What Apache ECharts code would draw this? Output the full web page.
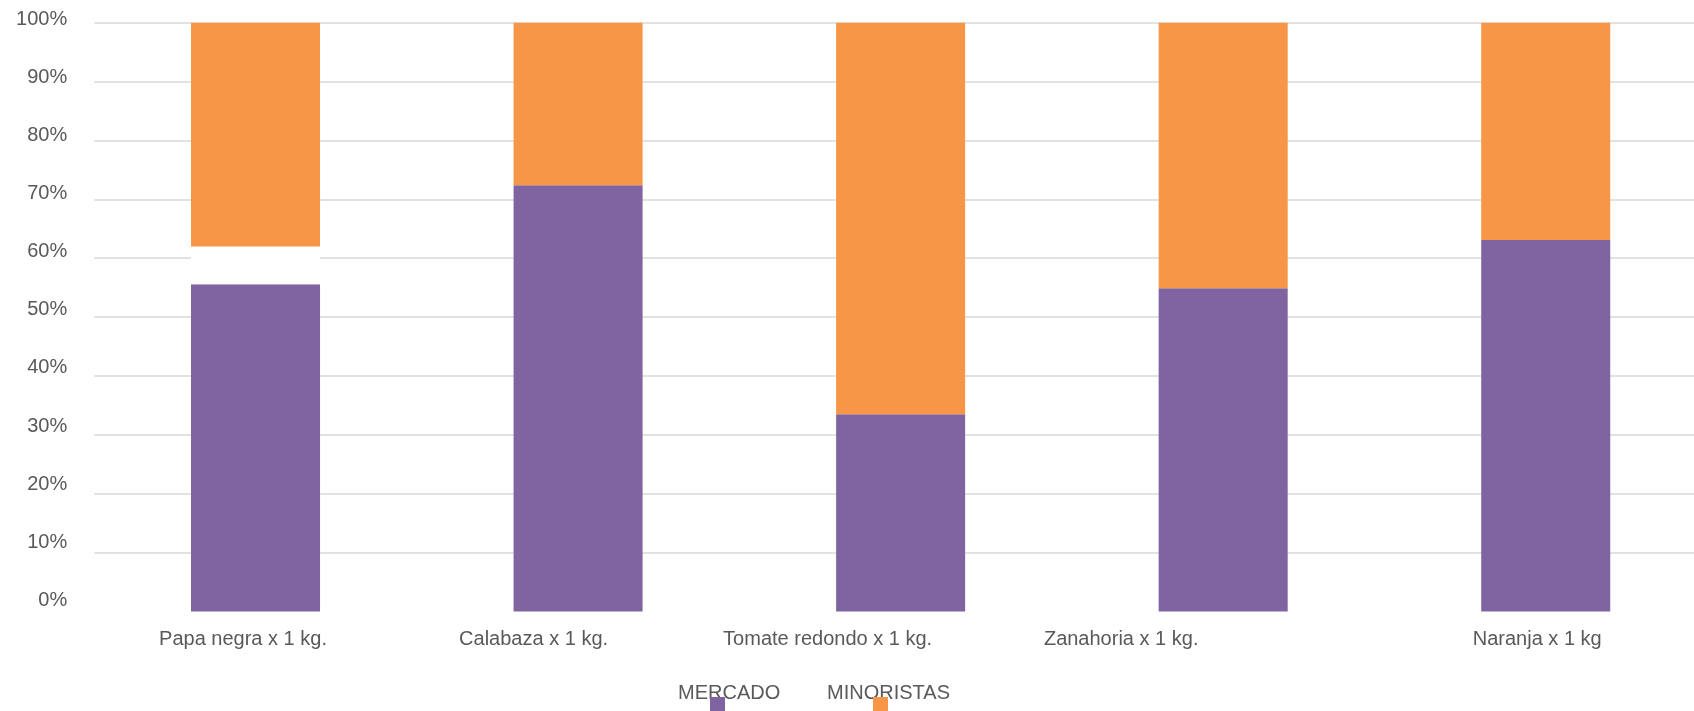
<!DOCTYPE html>
<html>
<head>
<meta charset="utf-8">
<script src="https://cdn.jsdelivr.net/npm/echarts@6/dist/echarts.min.js"></script>
<style>
html,body{margin:0;padding:0;background:#ffffff;overflow:hidden;}
#chart{width:1707px;height:711px;}
</style>
</head>
<body>
<div id="chart"></div>
<script>
// ---- data ----
const categories = ['Papa negra x 1 kg.', 'Calabaza x 1 kg.', 'Tomate redondo x 1 kg.', 'Zanahoria x 1 kg.', 'Naranja x 1 kg'];
const mercado    = [55.6, 72.4, 33.5, 54.9, 63.1];
const hueco      = [6.4, 0, 0, 0, 0];
const minoristas = [38.0, 27.6, 66.5, 45.1, 36.9];
const seriesNames = ['MERCADO', 'MINORISTAS'];

// ---- styling ----
const FONT = 'Liberation Sans, Arial, sans-serif';
const TXT = '#595959';
// label shifts (px, to the left) as seen in the reference
const labelShift = [12.5, 44.5, 73, 102, 8.5];
const rich = {};
labelShift.forEach((s, i) => {
  rich['l' + i] = { fontFamily: FONT, fontSize: 20, color: TXT, padding: [0, 2 * s, 0, 0] };
});

const chart = echarts.init(document.getElementById('chart'), null, { renderer: 'canvas' });

const legendText = (name, left) => ({
  data: [name], left: left, top: 683, orient: 'horizontal', padding: 0,
  itemWidth: 0, itemHeight: 20, itemGap: 0,
  itemStyle: { opacity: 0 }, icon: 'rect',
  textStyle: { fontFamily: FONT, fontSize: 20, color: TXT, lineHeight: 20 },
  selectedMode: true
});
const legendIcon = (name, left) => ({
  data: [name], left: left, top: 697, padding: 0,
  itemWidth: 15, itemHeight: 15, icon: 'rect',
  formatter: () => '',
  textStyle: { fontSize: 8 },
  selectedMode: true
});

chart.setOption({
  backgroundColor: '#ffffff',
  animation: false,
  grid: [
    { left: 94.25, right: 0, top: 22.7, bottom: 99.5, containLabel: false },
    { left: 94.25, width: 10, top: 19, bottom: 110.5, containLabel: false }
  ],
  legend: [
    legendText('MERCADO', 673),
    legendText('MINORISTAS', 822),
    legendIcon('MERCADO', 710),
    legendIcon('MINORISTAS', 873)
  ],
  xAxis: [
    {
      type: 'category', gridIndex: 0, data: categories,
      axisLine: { show: false }, axisTick: { show: false },
      axisLabel: {
        margin: 18, interval: 0,
        fontFamily: FONT, fontSize: 20, color: TXT,
        formatter: (v, i) => '{l' + i + '|' + v + '}',
        rich: rich
      }
    },
    { type: 'category', gridIndex: 1, data: categories, show: false }
  ],
  yAxis: [
    {
      type: 'value', gridIndex: 0, min: 0, max: 100, interval: 10,
      axisLabel: { show: false }, axisLine: { show: false }, axisTick: { show: false },
      splitLine: { show: true, showMinLine: false, lineStyle: { color: '#D9D9D9', width: 1.5 } }
    },
    {
      type: 'value', gridIndex: 1, min: 0, max: 100, interval: 10,
      axisLine: { show: false }, axisTick: { show: false }, splitLine: { show: false },
      axisLabel: { margin: 27, formatter: '{value}%', fontFamily: FONT, fontSize: 20, color: TXT }
    }
  ],
  series: [
    {
      name: 'MERCADO', type: 'bar', stack: 'total', xAxisIndex: 0, yAxisIndex: 0,
      barWidth: '40%', data: mercado, itemStyle: { color: '#8064A2' }
    },
    {
      name: 'hueco', type: 'bar', stack: 'total', xAxisIndex: 0, yAxisIndex: 0,
      barWidth: '40%', data: hueco, itemStyle: { color: '#FFFFFF' }, silent: true
    },
    {
      name: 'MINORISTAS', type: 'bar', stack: 'total', xAxisIndex: 0, yAxisIndex: 0,
      barWidth: '40%', data: minoristas, itemStyle: { color: '#F79646' }
    }
  ]
});
</script>
</body>
</html>
